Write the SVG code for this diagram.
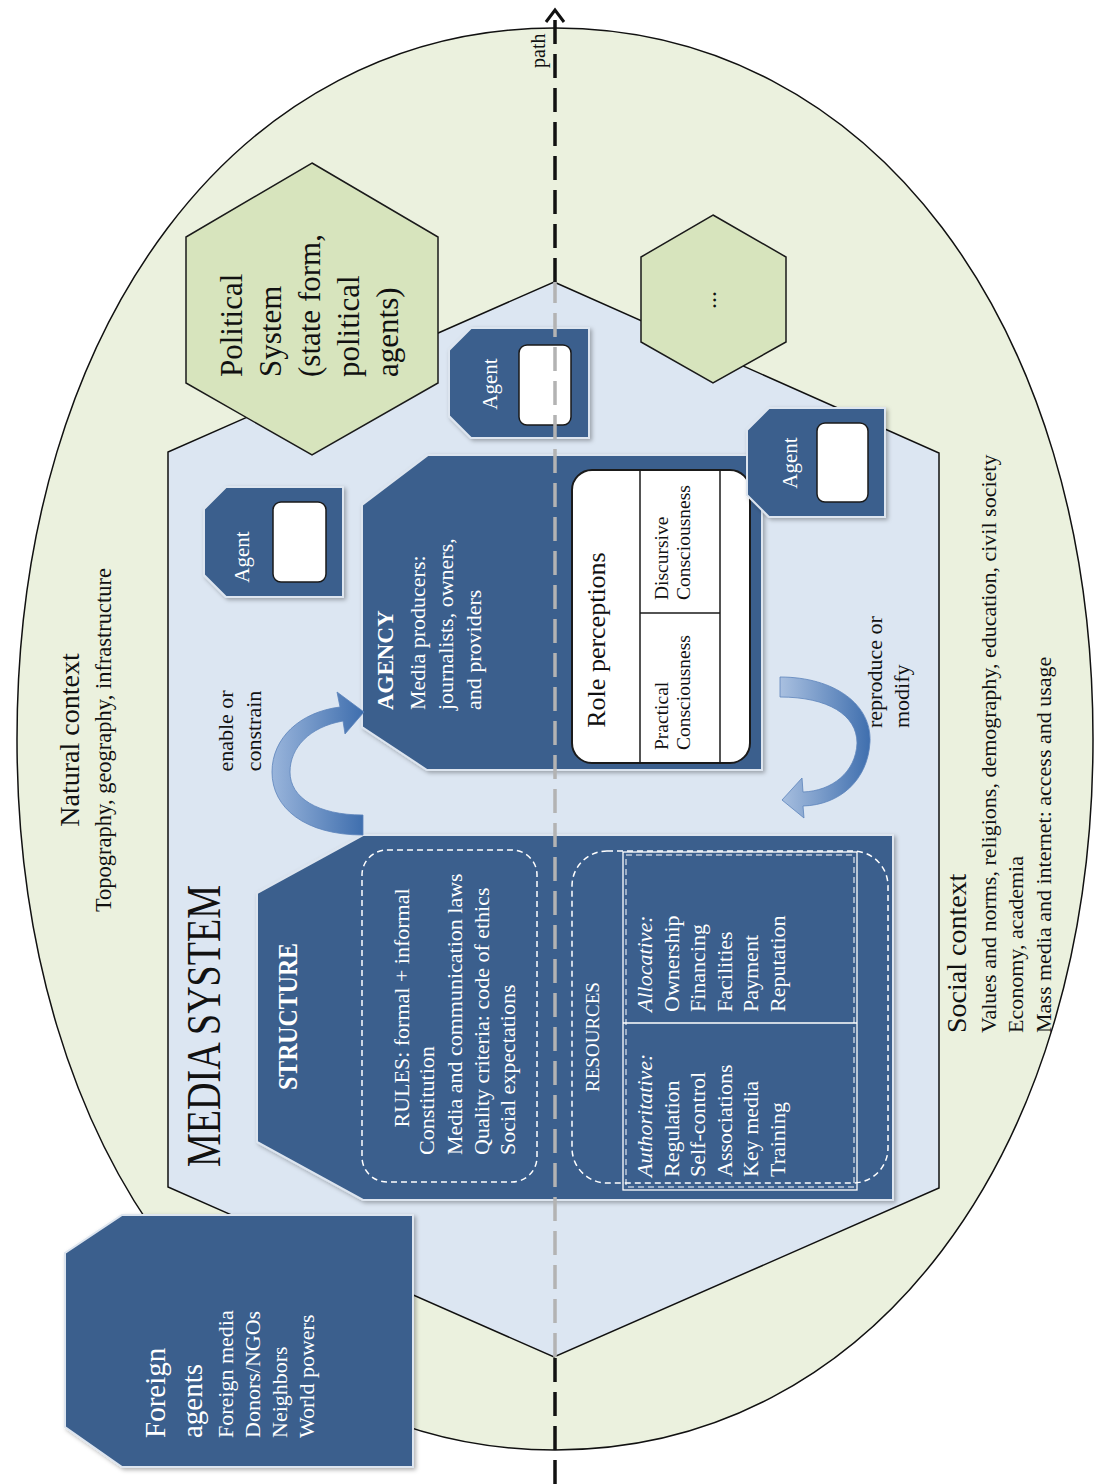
<svg xmlns="http://www.w3.org/2000/svg" width="1099" height="1484" viewBox="0 0 1099 1484">
<defs>
<style>
.t{font-family:"Liberation Serif","Times New Roman",serif;}
.w{fill:#ffffff;}
.k{fill:#111111;}
.box{fill:#3b5f8d;stroke:#dde5ef;stroke-width:2;filter:url(#sh);}
.hexg{fill:#d7e4bd;stroke:#1a1a1a;stroke-width:1.5;}
.wr{fill:#ffffff;stroke:#1a1a1a;stroke-width:1.5;}
.dsh{fill:none;stroke:#ffffff;stroke-width:1.5;stroke-dasharray:6 4;}
.sol{fill:none;stroke:#ffffff;stroke-width:1.3;}
.ln{stroke:#1a1a1a;stroke-width:1.5;}
</style>
<filter id="sh" x="-10%" y="-10%" width="130%" height="130%"><feDropShadow dx="2" dy="2" stdDeviation="2" flood-color="#000" flood-opacity="0.3"/></filter>
<linearGradient id="g1" gradientUnits="userSpaceOnUse" x1="270" y1="0" x2="365" y2="0"><stop offset="0" stop-color="#9bb6dc"/><stop offset="1" stop-color="#3d6dad"/></linearGradient>
<linearGradient id="g2" gradientUnits="userSpaceOnUse" x1="780" y1="0" x2="872" y2="0"><stop offset="0" stop-color="#a9c0e0"/><stop offset="1" stop-color="#3d6dad"/></linearGradient>
</defs>
<rect x="0" y="0" width="1099" height="1484" fill="#ffffff"/>

<g id="context">
<path d="M555,28 C869.7,28 1093,323 1093,739 C1093,1155 869.7,1450 555,1450 C240.3,1450 17,1155 17,739 C17,323 240.3,28 555,28 Z" fill="#ebf1de" stroke="#111" stroke-width="1.5"/>
<text class="t k" font-size="28" text-anchor="middle" transform="translate(79,740) rotate(-90)">Natural context</text>
<text class="t k" font-size="22.5" text-anchor="middle" transform="translate(111,740) rotate(-90)">Topography, geography, infrastructure</text>
<text class="t k" font-size="28" transform="translate(966,1033) rotate(-90)">Social context</text>
<text class="t k" font-size="22" transform="translate(996,1033) rotate(-90)">Values and norms, religions, demography, education, civil society</text>
<text class="t k" font-size="22" transform="translate(1023,1033) rotate(-90)">Economy, academia</text>
<text class="t k" font-size="22" transform="translate(1051,1033) rotate(-90)">Mass media and internet: access and usage</text>
</g>

<g id="media-system">
<polygon points="554,282 939,453 939,1188 554,1357 168,1187 168,452" fill="#dce6f2" stroke="#111" stroke-width="1.5"/>
<text class="t k" font-size="48" textLength="282" lengthAdjust="spacingAndGlyphs" transform="translate(220,1167) rotate(-90)">MEDIA SYSTEM</text>
</g>

<g id="political-system">
<polygon class="hexg" points="312,163 438,237 438,383 312,455 186,383 186,237"/>
<text class="t k" font-size="31" transform="translate(242,377) rotate(-90)"><tspan x="0" y="0">Political</tspan><tspan x="0" dy="39">System</tspan><tspan x="0" dy="39">(state form,</tspan><tspan x="0" dy="39">political</tspan><tspan x="0" dy="39">agents)</tspan></text>
</g>

<g id="other-system">
<polygon class="hexg" points="713,215 786,257 786,342 713,383 641,342 641,257"/>
<text class="t k" font-size="24" text-anchor="middle" transform="translate(716,300) rotate(-90)">...</text>
</g>

<g id="agent-1">
<polygon class="box" points="471,328 589,328 589,438 471,438 449,416 449,350"/>
<rect class="wr" x="519" y="345" width="52" height="80" rx="8"/>
<text class="t w" font-size="21" text-anchor="middle" transform="translate(497,384) rotate(-90)">Agent</text>
</g>

<g id="agent-3">
<polygon class="box" points="226,487 343,487 343,597 226,597 204,575 204,509"/>
<rect class="wr" x="273" y="502" width="53" height="80" rx="8"/>
<text class="t w" font-size="21" text-anchor="middle" transform="translate(249,557) rotate(-90)">Agent</text>
</g>

<g id="agency">
<polygon class="box" points="428,455 762,455 762,770 427,770 362,727 362,505"/>
<text class="t w" font-size="23" font-weight="bold" transform="translate(393,710) rotate(-90)">AGENCY</text>
<text class="t w" font-size="22" transform="translate(425,710) rotate(-90)"><tspan x="0" y="0">Media producers:</tspan><tspan x="0" dy="28">journalists, owners,</tspan><tspan x="0" dy="28">and providers</tspan></text>
<rect x="572" y="470" width="178" height="293" rx="20" fill="#ffffff" stroke="#1a1a1a" stroke-width="2"/>
<line class="ln" x1="640" y1="470" x2="640" y2="763"/>
<line class="ln" x1="720" y1="470" x2="720" y2="763"/>
<line class="ln" x1="640" y1="613" x2="720" y2="613"/>
<text class="t k" font-size="26" text-anchor="middle" transform="translate(605,640) rotate(-90)">Role perceptions</text>
<text class="t k" font-size="19.5" transform="translate(668,750) rotate(-90)"><tspan x="0" y="0">Practical</tspan><tspan x="0" dy="22">Consciousness</tspan></text>
<text class="t k" font-size="19.5" transform="translate(668,600) rotate(-90)"><tspan x="0" y="0">Discursive</tspan><tspan x="0" dy="22">Consciousness</tspan></text>
</g>

<g id="agent-2">
<polygon class="box" points="769,408 885,408 885,517 769,517 747,495 747,430"/>
<rect class="wr" x="817" y="423" width="51" height="79" rx="8"/>
<text class="t w" font-size="21" text-anchor="middle" transform="translate(797,463) rotate(-90)">Agent</text>
</g>

<g id="structure">
<polygon class="box" points="363,835 893,835 893,1200 363,1200 257,1142 257,893"/>
<text class="t w" font-size="28" font-weight="bold" textLength="147" lengthAdjust="spacingAndGlyphs" transform="translate(297,1090) rotate(-90)">STRUCTURE</text>
<rect class="dsh" x="362" y="850" width="175" height="332" rx="25"/>
<text class="t w" font-size="22" text-anchor="middle" transform="translate(409,1008) rotate(-90)">RULES: formal + informal</text>
<text class="t w" font-size="22" transform="translate(434,1155) rotate(-90)"><tspan x="0" y="0">Constitution</tspan><tspan x="0" dy="27.5">Media and communication laws</tspan><tspan x="0" dy="27">Quality criteria: code of ethics</tspan><tspan x="0" dy="26.5">Social expectations</tspan></text>
<rect class="dsh" x="572" y="851" width="316" height="332" rx="35"/>
<text class="t w" font-size="19" text-anchor="middle" transform="translate(599,1037) rotate(-90)">RESOURCES</text>
<rect class="sol" x="623" y="852" width="234" height="338"/>
<rect class="dsh" x="626" y="855" width="228" height="332" style="stroke-width:1"/>
<line class="sol" x1="623" y1="1023" x2="857" y2="1023"/>
<text class="t w" font-size="22" transform="translate(652,1177) rotate(-90)"><tspan x="0" y="0" font-style="italic">Authoritative:</tspan><tspan x="0" dy="26.6">Regulation</tspan><tspan x="0" dy="26.6">Self-control</tspan><tspan x="0" dy="26.6">Associations</tspan><tspan x="0" dy="26.6">Key media</tspan><tspan x="0" dy="26.6">Training</tspan></text>
<text class="t w" font-size="22" transform="translate(652,1012) rotate(-90)"><tspan x="0" y="0" font-style="italic">Allocative:</tspan><tspan x="0" dy="26.6">Ownership</tspan><tspan x="0" dy="26.6">Financing</tspan><tspan x="0" dy="26.6">Facilities</tspan><tspan x="0" dy="26.6">Payment</tspan><tspan x="0" dy="26.6">Reputation</tspan></text>
</g>

<g id="foreign-agents">
<polygon class="box" points="122,1215 413,1215 413,1467 122,1467 65,1427 65,1253"/>
<text class="t w" font-size="29" transform="translate(165,1438) rotate(-90)"><tspan x="0" y="0">Foreign</tspan><tspan x="0" dy="37">agents</tspan></text>
<text class="t w" font-size="22" transform="translate(233,1438) rotate(-90)"><tspan x="0" y="0">Foreign media</tspan><tspan x="0" dy="27">Donors/NGOs</tspan><tspan x="0" dy="27">Neighbors</tspan><tspan x="0" dy="26.5">World powers</tspan></text>
</g>

<g id="connectors">
<path d="M363,835 C305,835 272,808 272,772 C272,738 300,712 340,707 L337,692 L364,712 L345,734 L343,721 C309,727 290,748 290,772 C290,798 318,815 363,815 Z" fill="url(#g1)" stroke="#5d84bb" stroke-width="0.8"/>
<text class="t k" font-size="22" text-anchor="middle" transform="translate(233,731) rotate(-90)">enable or</text>
<text class="t k" font-size="22" text-anchor="middle" transform="translate(261,731) rotate(-90)">constrain</text>
<path d="M780,677 C835,677 872,705 870,742 C868,780 840,805 803,806 L804,818 L782,800 L802,778 L803,792 C832,791 856,772 857,743 C857,715 828,697 780,697 Z" fill="url(#g2)" stroke="#5d84bb" stroke-width="0.8"/>
<text class="t k" font-size="22" transform="translate(882,728) rotate(-90)">reproduce or</text>
<text class="t k" font-size="22" transform="translate(909,728) rotate(-90)">modify</text>
<line x1="555" y1="1484" x2="555" y2="1357" stroke="#111" stroke-width="3.5" stroke-dasharray="24 10"/>
<line x1="555" y1="1357" x2="555" y2="282" stroke="#b3b3b3" stroke-width="3.5" stroke-dasharray="24 10"/>
<line x1="555" y1="282" x2="555" y2="12" stroke="#111" stroke-width="3.5" stroke-dasharray="24 10"/>
<polyline points="546,22 555,10 564,22" fill="none" stroke="#111" stroke-width="3"/>
<text class="t k" font-size="20" transform="translate(545,68) rotate(-90)">path</text>
</g>
</svg>
